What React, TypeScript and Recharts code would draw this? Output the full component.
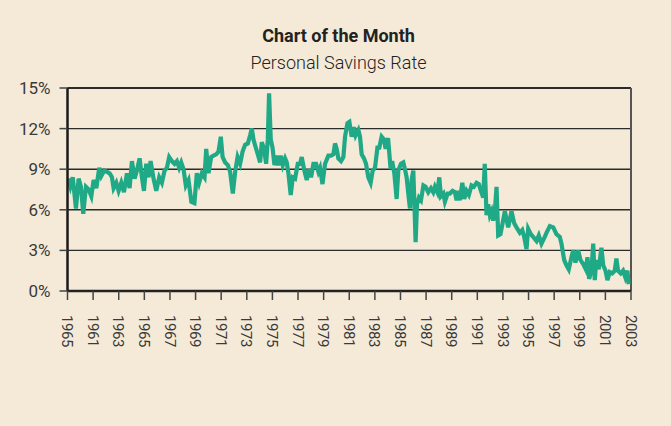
import React from "react";
import { LineChart, Line, XAxis, YAxis, CartesianGrid, ReferenceLine } from "recharts";

const title = "Chart of the Month";
const subtitle = "Personal Savings Rate";

const years = [
  1959.04, 1959.22, 1959.41, 1959.66, 1959.87, 1960.05, 1960.23, 1960.44, 1960.65, 1960.86,
  1961.04, 1961.25, 1961.48, 1961.64, 1961.87, 1962.08, 1962.29, 1962.47, 1962.6, 1962.81,
  1962.99, 1963.2, 1963.41, 1963.64, 1963.85, 1964.03, 1964.24, 1964.42, 1964.63, 1964.81,
  1964.97, 1965.15, 1965.33, 1965.49, 1965.72, 1965.93, 1966.16, 1966.37, 1966.58, 1966.76,
  1966.94, 1967.15, 1967.36, 1967.54, 1967.72, 1967.88, 1968.06, 1968.24, 1968.45, 1968.67,
  1968.91, 1969.1, 1969.28, 1969.49, 1969.7, 1969.83, 1970.01, 1970.22, 1970.4, 1970.61,
  1970.79, 1970.97, 1971.11, 1971.31, 1971.52, 1971.7, 1971.91, 1972.09, 1972.28, 1972.48,
  1972.67, 1972.87, 1973.08, 1973.26, 1973.39, 1973.52, 1973.7, 1973.86, 1974.04, 1974.17,
  1974.35, 1974.51, 1974.64, 1974.74, 1974.87, 1975.01, 1975.16, 1975.34, 1975.47, 1975.65,
  1975.81, 1975.99, 1976.12, 1976.25, 1976.43, 1976.59, 1976.77, 1976.98, 1977.16, 1977.29,
  1977.47, 1977.68, 1977.86, 1978.02, 1978.2, 1978.41, 1978.59, 1978.72, 1978.91, 1979.11,
  1979.37, 1979.58, 1979.76, 1979.89, 1980.02, 1980.15, 1980.36, 1980.54, 1980.67, 1980.86,
  1981.01, 1981.19, 1981.37, 1981.5, 1981.71, 1981.84, 1981.97, 1982.15, 1982.31, 1982.49,
  1982.67, 1982.83, 1983.01, 1983.2, 1983.35, 1983.53, 1983.71, 1983.84, 1984.03, 1984.23,
  1984.35, 1984.52, 1984.7, 1984.83, 1985.04, 1985.22, 1985.35, 1985.48, 1985.61, 1985.74,
  1985.87, 1986.0, 1986.08, 1986.18, 1986.29, 1986.44, 1986.6, 1986.79, 1986.96, 1987.17,
  1987.38, 1987.56, 1987.69, 1987.88, 1988.03, 1988.16, 1988.35, 1988.47, 1988.68, 1988.86,
  1989.07, 1989.25, 1989.38, 1989.51, 1989.64, 1989.83, 1989.98, 1990.16, 1990.34, 1990.55,
  1990.73, 1990.94, 1991.12, 1991.28, 1991.46, 1991.58, 1991.72, 1991.85, 1991.98, 1992.11,
  1992.24, 1992.37, 1992.5, 1992.63, 1992.81, 1992.97, 1993.15, 1993.41, 1993.67, 1993.88,
  1994.06, 1994.32, 1994.51, 1994.66, 1994.84, 1994.97, 1995.18, 1995.36, 1995.62, 1995.8,
  1996.01, 1996.22, 1996.4, 1996.66, 1996.93, 1997.18, 1997.44, 1997.57, 1997.78, 1997.96,
  1998.14, 1998.35, 1998.49, 1998.66, 1998.88, 1999.05, 1999.26, 1999.47, 1999.6, 1999.73,
  1999.91, 2000.05, 2000.17, 2000.3, 2000.48, 2000.69, 2000.83, 2001.01, 2001.16, 2001.34,
  2001.53, 2001.73, 2001.86, 2001.99, 2002.2, 2002.38, 2002.56, 2002.72, 2002.82,
];

const rates = [
  8.3, 7.7, 8.4, 6.1, 8.3, 7.7, 5.7, 7.7, 7.5, 7.0,
  8.2, 7.6, 9.1, 8.5, 8.9, 8.8, 8.7, 8.4, 7.6, 8.0,
  7.4, 8.0, 7.3, 8.7, 7.6, 9.6, 8.3, 8.9, 9.8, 8.4,
  7.4, 9.4, 8.4, 9.6, 8.3, 7.4, 8.4, 8.0, 8.9, 9.1,
  9.9, 9.6, 9.4, 9.6, 9.1, 9.5, 9.0, 7.8, 8.2, 6.6,
  6.5, 8.7, 8.0, 8.7, 8.4, 10.5, 8.7, 9.9, 10.0, 10.1,
  10.3, 11.4, 9.9, 9.5, 9.3, 8.8, 7.2, 8.8, 9.9, 9.4,
  10.3, 10.8, 10.9, 11.5, 12.0, 11.2, 10.6, 10.1, 9.5, 11.0,
  10.5, 9.4, 11.2, 14.6, 11.2, 10.6, 9.3, 10.0, 9.3, 10.0,
  9.3, 9.8, 9.5, 8.7, 7.1, 8.4, 8.3, 9.4, 9.4, 9.9,
  9.0, 8.2, 9.0, 8.4, 9.4, 9.4, 8.8, 9.1, 7.9, 9.4,
  10.0, 10.0, 10.1, 10.9, 10.5, 9.8, 9.6, 9.9, 11.4, 12.4,
  12.5, 11.4, 12.1, 11.5, 11.9, 11.4, 10.1, 9.8, 9.4, 8.4,
  8.0, 8.9, 9.1, 10.6, 10.6, 11.4, 11.2, 10.5, 11.3, 9.0,
  9.6, 8.7, 6.8, 8.9, 9.4, 9.5, 9.0, 8.4, 7.2, 6.1,
  8.2, 8.9, 6.7, 3.6, 6.4, 6.9, 6.7, 7.8, 7.7, 7.3,
  7.6, 7.3, 7.7, 7.3, 8.4, 7.0, 7.2, 6.6, 7.2, 7.2,
  7.4, 7.3, 6.7, 7.4, 6.7, 8.0, 6.8, 7.4, 7.1, 7.8,
  7.7, 8.0, 7.9, 7.4, 6.9, 9.4, 5.6, 6.4, 5.6, 5.9,
  5.2, 5.9, 7.7, 4.1, 4.2, 5.0, 5.9, 4.7, 5.9, 5.0,
  4.7, 4.3, 4.5, 4.0, 3.1, 4.6, 4.2, 4.0, 3.7, 4.1,
  3.5, 3.9, 4.3, 4.8, 4.7, 4.2, 4.0, 3.5, 2.3, 1.9,
  1.6, 2.5, 3.0, 2.1, 3.0, 2.3, 2.0, 1.6, 2.5, 0.9,
  1.5, 3.5, 0.8, 2.3, 1.6, 3.2, 1.9, 1.5, 0.8, 1.4,
  1.3, 1.5, 2.4, 1.5, 1.3, 1.5, 1.0, 1.5, 0.5,
];

const xTickYears = [
  1959, 1961, 1963, 1965, 1967, 1969, 1971, 1973, 1975, 1977, 1979, 1981,
  1983, 1985, 1987, 1989, 1991, 1993, 1995, 1997, 1999, 2001, 2003,
];
const xTickLabels = [
  "1965", "1961", "1963", "1965", "1967", "1969", "1971", "1973", "1975", "1977", "1979", "1981",
  "1983", "1985", "1987", "1989", "1991", "1993", "1995", "1997", "1999", "2001", "2003",
];
const yTicks = [0, 3, 6, 9, 12, 15];

const data = years.map((year, i) => ({ year, rate: rates[i] }));

const FONT = "Roboto, 'DejaVu Sans', sans-serif";

const XTick = (props: any) => {
  const { x, y, payload } = props;
  const idx = xTickYears.indexOf(payload.value);
  return (
    <text
      transform={`translate(${x},${y + 15}) rotate(90)`}
      x={0}
      y={0}
      dy="0.36em"
      textAnchor="start"
      fontSize={15}
      letterSpacing={-0.4}
      fill="#3a3a3a"
      fontFamily={FONT}
    >
      {xTickLabels[idx]}
    </text>
  );
};

export default function App() {
  return (
    <div
      style={{
        position: "absolute",
        left: 0,
        top: 0,
        width: 671,
        height: 426,
        background: "#F5EAD8",
        overflow: "hidden",
      }}
    >
      <svg
        width={671}
        height={80}
        style={{ position: "absolute", left: 0, top: 0, pointerEvents: "none" }}
      >
        <text x={338.5} y={42} textAnchor="middle" fontFamily={FONT} fontWeight={700} fontSize={18} fill="#222">
          {title}
        </text>
        <text x={338.5} y={69} textAnchor="middle" fontFamily={FONT} fontWeight={300} fontSize={18} fill="#222">
          {subtitle}
        </text>
      </svg>
      <div style={{ position: "absolute", left: 0, top: 0 }}>
        <LineChart
          width={671}
          height={426}
          data={data}
          margin={{ top: 88, right: 40, bottom: 75, left: 0 }}
        >
          <CartesianGrid horizontal={true} vertical={false} stroke="#2b2b2b" strokeWidth={1.4} />
          <XAxis
            dataKey="year"
            type="number"
            domain={[1959, 2003]}
            ticks={xTickYears}
            interval={0}
            height={60}
            tickSize={9}
            tickMargin={0}
            axisLine={{ stroke: "#222", strokeWidth: 2.5 }}
            tickLine={{ stroke: "#444", strokeWidth: 1.5 }}
            tick={<XTick />}
            allowDataOverflow
          />
          <YAxis
            type="number"
            domain={[0, 15]}
            ticks={yTicks}
            interval={0}
            width={67.5}
            tickSize={8}
            tickMargin={9}
            tickFormatter={(v: number) => `${v}%`}
            axisLine={{ stroke: "#1a1a1a", strokeWidth: 2.5 }}
            tickLine={{ stroke: "#444", strokeWidth: 1.5 }}
            tick={{ fontSize: 17, fill: "#3a3a3a", fontFamily: FONT }}
          />
          <ReferenceLine y={15} stroke="#2b2b2b" strokeWidth={2} />
          <ReferenceLine x={2003} stroke="#555" strokeWidth={2} />
          <Line
            type="linear"
            dataKey="rate"
            stroke="#20A986"
            strokeWidth={4.2}
            dot={false}
            isAnimationActive={false}
            strokeLinejoin="miter"
          />
        </LineChart>
      </div>
    </div>
  );
}
